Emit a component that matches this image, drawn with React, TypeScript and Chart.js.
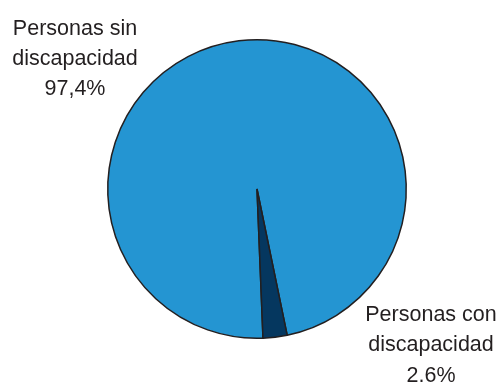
import React, { useEffect, useRef } from "react";
import { Chart, registerables } from "chart.js";

Chart.register(...registerables);

const categories = ["Personas sin discapacidad", "Personas con discapacidad"];
const values = [97.4, 2.6];
const valueLabels = ["97,4%", "2.6%"];
const labelLines = [
  ["Personas sin", "discapacidad"],
  ["Personas con", "discapacidad"],
];
const colors = ["#2495D2", "#05375F"];

const labelPlugin = {
  id: "outerLabels",
  afterDraw(chart: any) {
    const ctx = chart.ctx;
    ctx.save();
    ctx.font = '21.5px "Liberation Sans", Arial, sans-serif';
    ctx.fillStyle = "#231f20";
    ctx.textAlign = "center";
    ctx.textBaseline = "alphabetic";
    const anchors = [
      { x: 75, y: 34.5 },
      { x: 431, y: 321 },
    ];
    const lh = 30.3;
    labelLines.forEach((lines, i) => {
      const all = [...lines, valueLabels[i]];
      all.forEach((t, j) => {
        ctx.fillText(t, anchors[i].x, anchors[i].y + j * lh);
      });
    });
    ctx.restore();
  },
};

export default function App() {
  const ref = useRef<HTMLCanvasElement | null>(null);
  useEffect(() => {
    if (!ref.current) return;
    const chart = new Chart(ref.current, {
      type: "pie",
      data: {
        labels: categories,
        datasets: [
          {
            data: values,
            backgroundColor: colors,
            borderColor: "#231f20",
            borderWidth: 1.5,
          },
        ],
      },
      options: {
        responsive: false,
        animation: false,
        rotation: 177.7,
        layout: { padding: { left: 107, right: 90, top: 39, bottom: 44 } },
        plugins: {
          legend: { display: false },
          tooltip: { enabled: false },
        },
      },
      plugins: [labelPlugin],
    });
    return () => chart.destroy();
  }, []);
  return (
    <div style={{ position: "fixed", left: 0, top: 0, width: 497, height: 383, background: "#fff" }}>
      <canvas ref={ref} width={497} height={383} />
    </div>
  );
}
